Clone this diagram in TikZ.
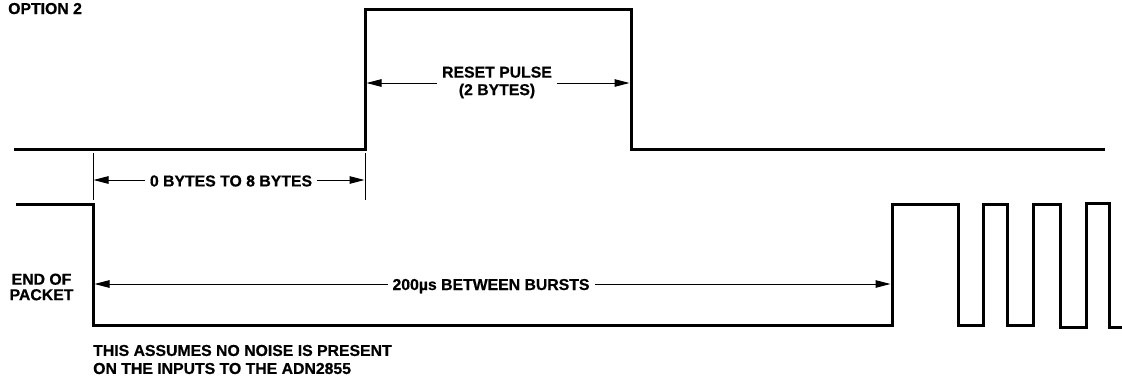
\documentclass[tikz,border=0pt]{standalone}
\usepackage{fontspec}
\setmainfont{Liberation Sans}[BoldFeatures={FakeBold=0.6}]
\usetikzlibrary{arrows.meta}
\begin{document}
\begin{tikzpicture}[x=1pt,y=-1pt,
  wave/.style={line width=3pt, line join=miter, black},
  dimline/.style={line width=1pt, {Triangle[length=15pt,width=7.5pt]}-{Triangle[length=15pt,width=7.5pt]}},
  extline/.style={line width=1pt},
  lbl/.style={fill=white, inner xsep=5pt, inner ysep=1pt, font=\bfseries\fontsize{15.8}{17.5}\selectfont, align=center},
  txt/.style={inner sep=0pt, font=\bfseries\fontsize{15.8}{18}\selectfont, align=left}]
\useasboundingbox (0,0) rectangle (1122,381);
% top waveform
\coordinate (t0) at (14,149);
\coordinate (t1) at (365,149);
\coordinate (t2) at (365,9.5);
\coordinate (t3) at (631,9.5);
\coordinate (t4) at (631,149);
\coordinate (t5) at (1105,149);
\draw[wave] (t0) -- (t1) -- (t2) -- (t3) -- (t4) -- (t5);
% bottom waveform
\draw[wave] (16,204) -- (93,204) -- (93,325.5) -- (892,325.5) -- (892,204)
  -- (958,204) -- (958,325.5) -- (983,325.5) -- (983,204)
  -- (1007,204) -- (1007,325.5) -- (1033,325.5) -- (1033,204)
  -- (1060,204) -- (1060,327) -- (1086,327) -- (1086,203)
  -- (1109,203) -- (1109,327) -- (1124,327);
% extension lines
\coordinate (e1a) at (93,153);
\coordinate (e1b) at (93,200);
\coordinate (e2a) at (365,153);
\coordinate (e2b) at (365,200);
\draw[extline] (e1a) -- (e1b);
\draw[extline] (e2a) -- (e2b);
% dimension arrows
\coordinate (r1) at (366.5,83);
\coordinate (r2) at (629.5,83);
\draw[dimline] (r1) -- (r2);
\node[lbl] (reset) at (497,82.5) {RESET PULSE\\(2 BYTES)};
\coordinate (b1) at (93.5,180);
\coordinate (b2) at (364.5,180);
\draw[dimline] (b1) -- (b2);
\node[lbl] (bytes) at (231,181) {0 BYTES TO 8 BYTES};
\coordinate (g1) at (94.5,284);
\coordinate (g2) at (890.5,284);
\draw[dimline] (g1) -- (g2);
\node[lbl, anchor=base] (gap) at (491,290) {200µs BETWEEN BURSTS};
% texts
\node[txt, anchor=base west] (opt) at (8,14) {OPTION 2};
\node[txt, align=center, font=\bfseries\fontsize{15.8}{15.5}\selectfont] (eop) at (41.5,287) {END OF\\PACKET};
\node[txt, anchor=west] (note) at (93,359.5) {THIS ASSUMES NO NOISE IS PRESENT\\ON THE INPUTS TO THE ADN2855};
\end{tikzpicture}
\end{document}
